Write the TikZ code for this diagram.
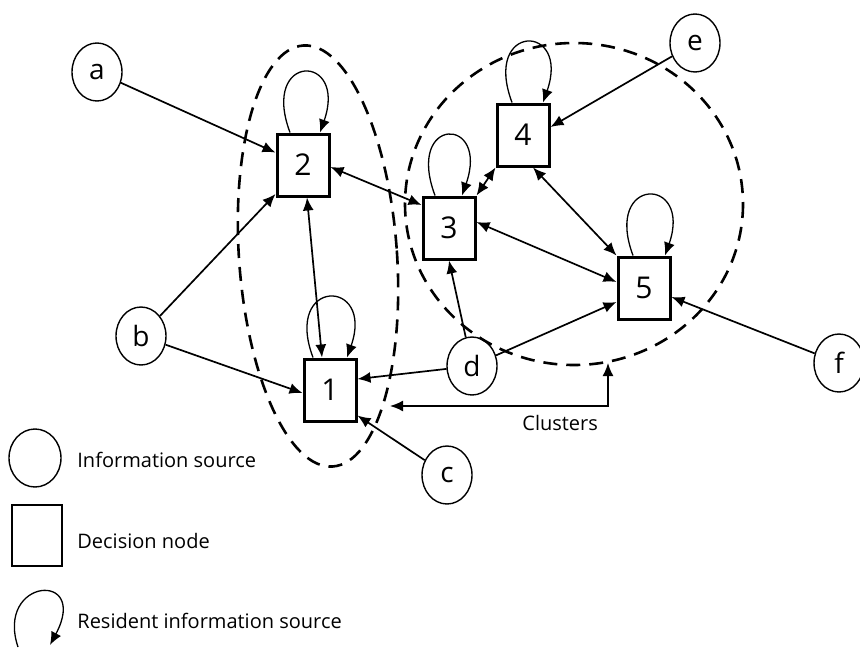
\documentclass[tikz,border=0pt]{standalone}
\usepackage{fontspec}
\setmainfont{Open Sans}
\usetikzlibrary{arrows.meta,shapes.geometric}

\tikzset{
  source/.style={ellipse,draw,line width=0.7pt,inner sep=0pt,
    minimum width=25pt,minimum height=29pt,font=\fontsize{14}{14}\selectfont},
  decision/.style={rectangle,draw,line width=1.5pt,inner sep=0pt,
    minimum width=26pt,minimum height=31pt,font=\fontsize{15}{15}\selectfont},
  link/.style={line width=0.85pt,-{Latex[length=6.5pt,width=5.5pt]}},
  bilink/.style={line width=0.85pt,{Latex[length=6.5pt,width=5.5pt]}-{Latex[length=6.5pt,width=5.5pt]}},
  cluster/.style={line width=1.3pt,dash pattern=on 7pt off 4.5pt},
  legend/.style={anchor=base west,inner sep=0pt,font=\fontsize{10}{12}\selectfont}
}

\begin{document}
\begin{tikzpicture}[x=0.5pt,y=-0.5pt]
    \useasboundingbox (0,0) rectangle (860,647);

    % clusters
    \draw[cluster,rotate around={4:(318,256)}] (318,256) ellipse [x radius=79,y radius=211];
    \draw[cluster] (574,204) ellipse [x radius=169,y radius=161];

    % decision nodes
    \node[decision] (n1) at (330,390) {1};
    \node[decision] (n2) at (303,165) {2};
    \node[decision] (n3) at (449,228) {3};
    \node[decision] (n4) at (523,135) {4};
    \node[decision] (n5) at (644,288) {5};

    % information sources
    \node[source] (a) at (97,72) {a};
    \node[source] (b) at (141,336) {b};
    \node[source] (c) at (447,475) {c};
    \node[source] (d) at (472,366) {d};
    \node[source] (e) at (695,43) {e};
    \node[source] (f) at (839,363) {f};

    % resident sources
    \foreach \n/\l/\r in {n1/8.5/8.5,n2/6.5/8.5,n3/7/6.5,n4/5.5/10,n5/5.5/10.5}
        \draw[link,line width=0.65pt] ([xshift=-\l pt]\n.north)
            .. controls +(-30,-80) and +(28,-80) .. ([xshift=\r pt]\n.north);

    % links
    \draw[link] (a) -- (n2);
    \draw[link] (b) -- (n2);
    \draw[link] (b) -- ([yshift=-1.5pt]n1.west);
    \draw[link] (c) -- ([yshift=3.5pt]n1.south east);
    \draw[link] (d) -- ([yshift=5.5pt]n1.east);
    \draw[link] (d) -- (n3.south);
    \draw[link] (d) -- ([yshift=-7pt]n5.west);
    \draw[link] (e) -- ([yshift=4pt]n4.east);
    \draw[link] (f) -- ([yshift=-4.5pt]n5.east);
    \draw[bilink] ([xshift=2pt]n2.south) -- ([xshift=-4pt]n1.north);
    \draw[bilink] ([yshift=-1pt]n2.east) -- ([yshift=11.5pt]n3.west);
    \draw[bilink] (n3.north east) -- (n4.south west);
    \draw[bilink] ([xshift=5pt]n4.south) -- (n5.north west);
    \draw[bilink] ([yshift=3pt]n3.east) -- ([yshift=3pt]n5.west);

    % clusters pointer
    \coordinate (clA) at (390,406);
    \coordinate (clB) at (608,363);
    \draw[bilink] (clA) -| (clB);
    \node[legend] (clText) at (522,430) {Clusters};

    % legend
    \node[ellipse,draw,line width=0.7pt,minimum width=26pt,minimum height=29pt] (keySource) at (35,458) {};
    \node[legend] (keySourceText) at (77,467) {Information source};
    \node[rectangle,draw,line width=0.8pt,minimum width=25pt,minimum height=30.5pt] (keyDecision) at (37,535.5) {};
    \node[legend] (keyDecisionText) at (77,548) {Decision node};
    \coordinate (keyLoopA) at (18,647);
    \coordinate (keyLoopB) at (50,645);
    \draw[link,line width=0.65pt] (keyLoopA) .. controls (-5,578) and (90,570) .. (keyLoopB);
    \node[legend] (keyLoopText) at (77,628) {Resident information source};
\end{tikzpicture}
\end{document}
